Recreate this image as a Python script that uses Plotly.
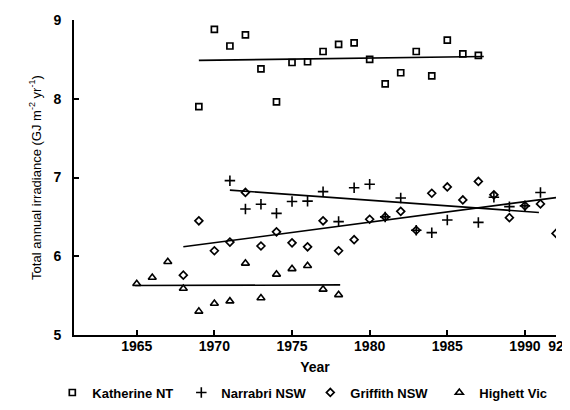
import plotly.graph_objects as go

# Katherine NT (squares)
kat_years = [1969, 1970, 1971, 1972, 1973, 1974, 1975, 1976, 1977, 1978, 1979,
             1980, 1981, 1982, 1983, 1984, 1985, 1986, 1987]
kat_vals = [7.90, 8.88, 8.67, 8.81, 8.38, 7.96, 8.46, 8.47, 8.60, 8.69, 8.71,
            8.50, 8.19, 8.33, 8.60, 8.29, 8.745, 8.57, 8.55]

# Narrabri NSW (plus)
nar_years = [1971, 1972, 1973, 1974, 1975, 1976, 1977, 1978, 1979, 1980, 1981,
             1982, 1983, 1984, 1985, 1987, 1988, 1989, 1990, 1991]
nar_vals = [6.96, 6.60, 6.66, 6.545, 6.695, 6.70, 6.82, 6.44, 6.87, 6.915, 6.50,
            6.74, 6.33, 6.30, 6.46, 6.43, 6.75, 6.63, 6.64, 6.81]

# Griffith NSW (diamonds)
gri_years = [1968, 1969, 1970, 1971, 1972, 1973, 1974, 1975, 1976, 1977, 1978,
             1979, 1980, 1981, 1982, 1983, 1984, 1985, 1986, 1987, 1988, 1989,
             1990, 1991, 1992]
gri_vals = [5.76, 6.45, 6.07, 6.18, 6.81, 6.13, 6.31, 6.17, 6.12, 6.45, 6.07,
            6.21, 6.47, 6.50, 6.57, 6.33, 6.80, 6.88, 6.715, 6.95, 6.78, 6.49,
            6.64, 6.665, 6.29]

# Highett Vic (triangles)
hig_years = [1965, 1966, 1967, 1968, 1969, 1970, 1971, 1972, 1973, 1974, 1975,
             1976, 1977, 1978]
hig_vals = [5.65, 5.73, 5.93, 5.59, 5.30, 5.40, 5.43, 5.91, 5.47, 5.77, 5.84,
            5.88, 5.58, 5.51]

# Fitted trend lines (end points)
kat_trend_x = [1969.0, 1987.35]
kat_trend_y = [8.487, 8.537]
nar_trend_x = [1971.0, 1990.9]
nar_trend_y = [6.84, 6.556]
gri_trend_x = [1968.0, 1992.0]
gri_trend_y = [6.12, 6.745]
hig_trend_x = [1964.9, 1978.1]
hig_trend_y = [5.628, 5.636]

x_tickvals = [1965, 1970, 1975, 1980, 1985, 1990, 1992]
x_ticktext = ["1965", "1970", "1975", "1980", "1985", "1990", "92"]
y_tickvals = [5, 6, 7, 8, 9]
y_ticktext = ["5", "6", "7", "8", "9"]

FONT = "Liberation Sans, Arial, sans-serif"

fig = go.Figure()

for tx, ty in [(kat_trend_x, kat_trend_y), (nar_trend_x, nar_trend_y),
               (gri_trend_x, gri_trend_y), (hig_trend_x, hig_trend_y)]:
    fig.add_trace(go.Scatter(x=tx, y=ty, mode="lines",
                             line=dict(color="black", width=1.6),
                             showlegend=False, hoverinfo="skip"))

fig.add_trace(go.Scatter(
    x=kat_years, y=kat_vals, mode="markers", name="Katherine NT",
    marker=dict(symbol="square-open", size=6, color="black",
                line=dict(width=1.7, color="black"))))
fig.add_trace(go.Scatter(
    x=nar_years, y=nar_vals, mode="markers", name="Narrabri NSW",
    marker=dict(symbol="cross-thin-open", size=7.5, color="black",
                line=dict(width=1.6, color="black"))))
fig.add_trace(go.Scatter(
    x=gri_years, y=gri_vals, mode="markers", name="Griffith NSW",
    marker=dict(symbol="diamond-open", size=6, color="black",
                line=dict(width=1.7, color="black"))))
fig.add_trace(go.Scatter(
    x=hig_years, y=hig_vals, mode="markers", name="Highett Vic",
    marker=dict(symbol="triangle-up-open", size=7, color="black",
                line=dict(width=1.6, color="black"))))

fig.update_layout(
    width=570, height=410,
    margin=dict(l=66, r=22, t=12, b=83, autoexpand=False),
    paper_bgcolor="white", plot_bgcolor="white",
    font=dict(family=FONT, size=13, color="black"),
    showlegend=True,
    legend=dict(orientation="h", x=-0.045, xanchor="left", y=-0.135,
                yanchor="top",
                font=dict(family=FONT, size=13, color="black", weight="bold"),
                itemwidth=30, tracegroupgap=0,
                entrywidth=84, entrywidthmode="pixels"),
    xaxis=dict(range=[1960.96, 1992.0], tickmode="array",
               tickvals=x_tickvals, ticktext=x_ticktext, automargin=False,
               ticks="inside", ticklen=5, tickwidth=1.5, tickcolor="black",
               showline=True, linecolor="black", linewidth=2,
               showgrid=False, zeroline=False, ticklabelstandoff=-3,
               tickfont=dict(family=FONT, size=14, color="black", weight="bold"),
               title=dict(text="<b>Year</b>", standoff=9,
                          font=dict(family=FONT, size=14, color="black"))),
    yaxis=dict(range=[5, 9], tickmode="array",
               tickvals=y_tickvals, ticktext=y_ticktext, automargin=False,
               ticks="inside", ticklen=5, tickwidth=1.5, tickcolor="black",
               showline=True, linecolor="black", linewidth=2,
               showgrid=False, zeroline=False, ticklabelstandoff=8,
               tickfont=dict(family=FONT, size=14, color="black", weight="bold"),
               title=dict(text="Total annual irradiance (GJ m<sup>-2</sup> yr<sup>-1</sup>)",
                          standoff=9,
                          font=dict(family=FONT, size=13, color="black"))),
)

fig.write_html("out.html")
